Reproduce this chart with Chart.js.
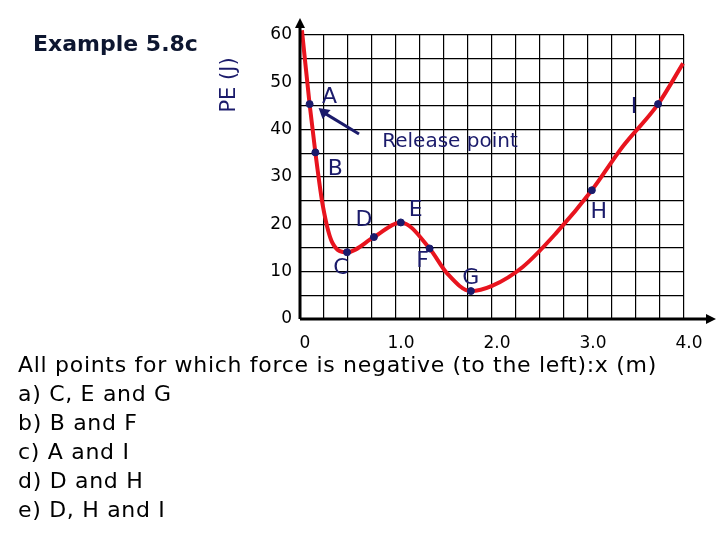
<!DOCTYPE html>
<html><head><meta charset="utf-8">
<script src="https://cdn.jsdelivr.net/npm/chart.js@4"></script>
<style>
body{margin:0;background:#fff;width:720px;height:540px;overflow:hidden;position:relative;font-family:"DejaVu Sans",sans-serif}
#c{position:absolute;left:0;top:0}
.q{position:absolute;left:18px;font-size:22px;letter-spacing:0.7px;color:#000;white-space:nowrap}
</style></head><body>
<canvas id="c" width="720" height="540"></canvas>
<div class="q" style="top:352px">All points for which force is negative (to the left):x (m)</div>
<div class="q" style="top:381px">a) C, E and G</div>
<div class="q" style="top:410px">b) B and F</div>
<div class="q" style="top:439px">c) A and I</div>
<div class="q" style="top:468px">d) D and H</div>
<div class="q" style="top:497px">e) D, H and I</div>
<script>
// curve (x in m, PE in J)
const curveX = [0.02, 0.1, 0.16, 0.24, 0.34, 0.49, 0.77, 1.05, 1.35, 1.53, 1.78, 2.0, 2.32, 2.67, 3.04, 3.36, 3.73, 3.99];
const curveY = [61, 45.4, 35.2, 23.7, 16, 14.1, 17.3, 20.4, 14.9, 9.7, 5.9, 7, 11, 18.2, 27.2, 36.4, 45.4, 54];
const pointNames = ['A', 'B', 'C', 'D', 'E', 'F', 'G', 'H', 'I'];
const pointX = [0.1, 0.16, 0.49, 0.77, 1.05, 1.35, 1.78, 3.04, 3.73];
const pointY = [45.4, 35.2, 14.1, 17.3, 20.4, 14.9, 5.9, 27.2, 45.4];
const xTickLabels = ['0', '1.0', '2.0', '3.0', '4.0'];
const yTickLabels = ['0', '10', '20', '30', '40', '50', '60'];

const navy = '#1b1b6b';
// label offsets in px relative to each point
const offs = {A:[20,-7], B:[20,17], C:[-6,16], D:[-10,-17], E:[15,-12], F:[-7,13], G:[0,-13], H:[7,22], I:[-24,3]};

const overlay = {
  id: 'overlay',
  afterDraw(chart) {
    const {ctx, scales: {x, y}} = chart;
    ctx.save();
    // axes with arrows
    ctx.strokeStyle = '#000'; ctx.fillStyle = '#000'; ctx.lineWidth = 3;
    const x0 = x.getPixelForValue(0), y0 = y.getPixelForValue(0);
    ctx.beginPath(); ctx.moveTo(x0, y0); ctx.lineTo(712, y0); ctx.moveTo(x0, y0); ctx.lineTo(x0, 22); ctx.stroke();
    ctx.beginPath(); ctx.moveTo(716, y0); ctx.lineTo(706, y0 - 5); ctx.lineTo(706, y0 + 5); ctx.fill();
    ctx.beginPath(); ctx.moveTo(x0, 18); ctx.lineTo(x0 - 5, 28); ctx.lineTo(x0 + 5, 28); ctx.fill();
    // tick labels
    ctx.font = '17px "DejaVu Sans"'; ctx.fillStyle = '#000';
    ctx.textAlign = 'right'; ctx.textBaseline = 'middle';
    yTickLabels.forEach(t => ctx.fillText(t, 292, y.getPixelForValue(+t)));
    ctx.textAlign = 'center'; ctx.textBaseline = 'middle';
    xTickLabels.forEach(t => ctx.fillText(t, x.getPixelForValue(+t) + 5, 344));
    // point labels
    ctx.font = '22px "DejaVu Sans"'; ctx.fillStyle = navy;
    pointNames.forEach((n, i) => {
      const o = offs[n];
      ctx.fillText(n, x.getPixelForValue(pointX[i]) + o[0], y.getPixelForValue(pointY[i]) + o[1]);
    });
    ctx.font = '20px "DejaVu Sans"';
    ctx.fillText('Release point', 450, 142);
    // arrow to A
    const ax = x.getPixelForValue(pointX[0]) + 9, ay = y.getPixelForValue(pointY[0]) + 4;
    ctx.strokeStyle = navy; ctx.lineWidth = 3;
    ctx.beginPath(); ctx.moveTo(359, 134); ctx.lineTo(ax + 6, ay + 5); ctx.stroke();
    ctx.fillStyle = navy;
    ctx.beginPath(); ctx.moveTo(ax, ay); ctx.lineTo(ax + 12, ay + 2); ctx.lineTo(ax + 4, ay + 11); ctx.fill();
    // title + y label
    ctx.fillStyle = '#0d1630'; ctx.font = 'bold 22px "DejaVu Sans"'; ctx.textAlign = 'left';
    ctx.fillText('Example 5.8c', 33, 45);
    ctx.translate(230, 85); ctx.rotate(-Math.PI / 2);
    ctx.fillStyle = navy; ctx.font = '21px "DejaVu Sans"'; ctx.textAlign = 'center';
    ctx.fillText('PE (J)', 0, 0);
    ctx.restore();
  }
};

new Chart(document.getElementById('c'), {
  type: 'scatter',
  data: {
    datasets: [
      {data: pointX.map((v, i) => ({x: v, y: pointY[i]})), showLine: false, pointRadius: 3.5,
       backgroundColor: navy, borderColor: navy, order: 0},
      {data: curveX.map((v, i) => ({x: v, y: curveY[i]})), showLine: true, borderColor: '#e8141e',
       borderWidth: 4, pointRadius: 0, cubicInterpolationMode: 'monotone', clip: false, order: 1}
    ]
  },
  options: {
    responsive: false, animation: false,
    layout: {padding: {left: 300, right: 36, top: 35, bottom: 221}},
    plugins: {legend: {display: false}, tooltip: {enabled: false}},
    scales: {
      x: {min: 0, max: 4, ticks: {display: false, stepSize: 0.25}, border: {display: false},
          grid: {color: '#000', lineWidth: 1.2, drawTicks: false}},
      y: {min: 0, max: 60, ticks: {display: false, stepSize: 5}, border: {display: false},
          grid: {color: '#000', lineWidth: 1.2, drawTicks: false}}
    }
  },
  plugins: [overlay]
});
</script>
</body></html>
